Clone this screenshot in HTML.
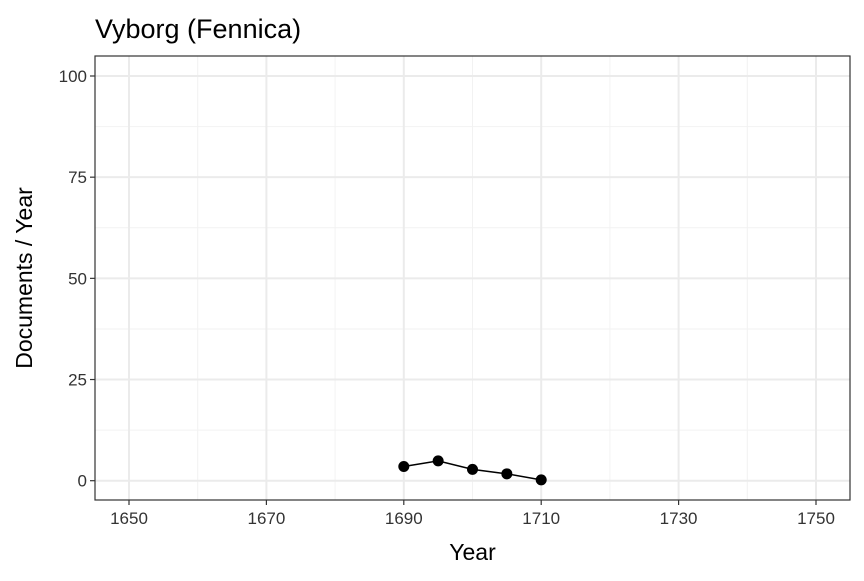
<!DOCTYPE html>
<html><head><meta charset="utf-8"><style>body{margin:0;background:#fff}svg{font-family:"Liberation Sans",sans-serif}</style></head>
<body>
<svg id="c" width="864" height="576"></svg>
<script>
const years=[1690,1695,1700,1705,1710];
const docs=[3.5,4.9,2.8,1.7,0.2];
const xTicks=[1650,1670,1690,1710,1730,1750];
const xMinor=[1660,1680,1700,1720,1740];
const yTicks=[0,25,50,75,100];
const yMinor=[12.5,37.5,62.5,87.5];
const L=95,R=850,T=56,B=500;
const sx=v=>129+(v-1650)*(816-129)/100;
const sy=v=>480.7-v*(480.7-76)/100;
const s=document.getElementById('c');const NS='http://www.w3.org/2000/svg';
function mk(t,a,p){const e=document.createElementNS(NS,t);for(const k in a)e.setAttribute(k,a[k]);(p||s).appendChild(e);return e;}
const grid=mk('g',{});


xMinor.forEach(v=>mk('line',{x1:sx(v),x2:sx(v),y1:T,y2:B,stroke:'#f2f2f2','stroke-width':1},grid));
yMinor.forEach(v=>mk('line',{x1:L,x2:R,y1:sy(v),y2:sy(v),stroke:'#f2f2f2','stroke-width':1},grid));
xTicks.forEach(v=>mk('line',{x1:sx(v),x2:sx(v),y1:T,y2:B,stroke:'#ebebeb','stroke-width':2},grid));
yTicks.forEach(v=>mk('line',{x1:L,x2:R,y1:sy(v),y2:sy(v),stroke:'#ebebeb','stroke-width':2},grid));
const fr=mk('rect',{x:L,y:T,width:R-L,height:B-T,fill:'none',stroke:'#333','stroke-width':1.2});


xTicks.forEach(v=>{mk('line',{x1:sx(v),x2:sx(v),y1:B,y2:B+5,stroke:'#333','stroke-width':1.2});
const t=mk('text',{x:sx(v),y:B+24,'text-anchor':'middle','font-size':17,fill:'#333'});t.textContent=v;

});
yTicks.forEach(v=>{mk('line',{x1:L-5,x2:L,y1:sy(v),y2:sy(v),stroke:'#333','stroke-width':1.2});
const t=mk('text',{x:L-8,y:sy(v)+6,'text-anchor':'end','font-size':17,fill:'#333'});t.textContent=v;

});
const ln=mk('polyline',{points:years.map((y,i)=>sx(y)+','+sy(docs[i])).join(' '),fill:'none',stroke:'#000','stroke-width':1.5});


years.forEach((y,i)=>{const c=mk('circle',{cx:sx(y),cy:sy(docs[i]),r:5.5,fill:'#000'});

});
let t=mk('text',{x:95,y:38,'font-size':27,fill:'#000'});t.textContent='Vyborg (Fennica)';


t=mk('text',{x:(L+R)/2,y:560,'text-anchor':'middle','font-size':23,fill:'#000'});t.textContent='Year';


t=mk('text',{x:0,y:0,'text-anchor':'middle','font-size':23,fill:'#000',transform:'translate(32,278) rotate(-90)'});t.textContent='Documents / Year';


</script>
</body></html>
